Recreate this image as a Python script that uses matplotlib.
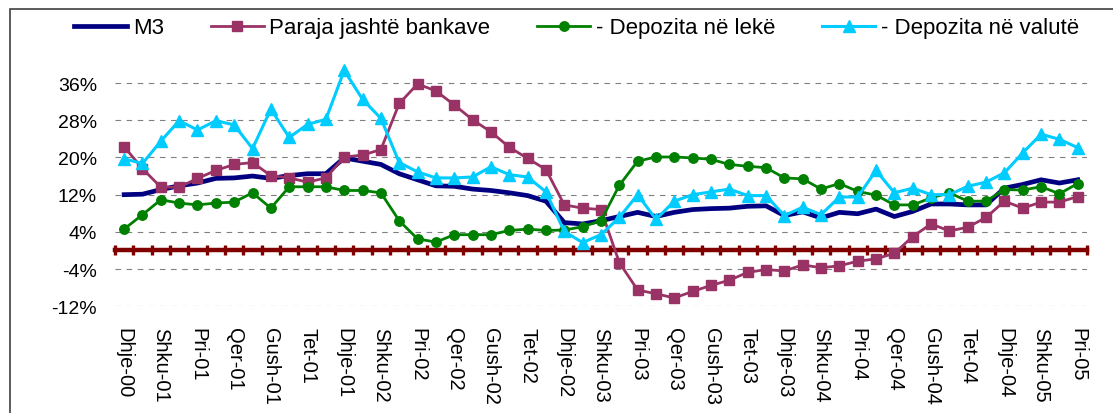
import numpy as np
import matplotlib.pyplot as plt
from matplotlib.patches import Rectangle
from matplotlib.ticker import FuncFormatter

plt.rcParams['font.family'] = ['Liberation Sans', 'DejaVu Sans']

# months Dhje-00 .. Pri-05, label every second month
labels = ['Dhje-00', 'Shku-01', 'Pri-01', 'Qer-01', 'Gush-01', 'Tet-01',
          'Dhje-01', 'Shku-02', 'Pri-02', 'Qer-02', 'Gush-02', 'Tet-02',
          'Dhje-02', 'Shku-03', 'Pri-03', 'Qer-03', 'Gush-03', 'Tet-03',
          'Dhje-03', 'Shku-04', 'Pri-04', 'Qer-04', 'Gush-04', 'Tet-04',
          'Dhje-04', 'Shku-05', 'Pri-05']

m3 = [12.0, 12.1, 13.1, 13.9, 14.5, 15.5, 15.6, 16.0, 15.5, 16.1, 16.5, 16.5,
      19.9, 19.2, 18.5, 16.5, 15.2, 13.9, 13.8, 13.2, 12.9, 12.4, 11.8, 10.6,
      6.0, 5.7, 6.4, 7.3, 8.2, 7.3, 8.2, 8.8, 9.0, 9.1, 9.5, 9.6, 7.5, 8.3,
      7.0, 8.2, 7.9, 8.9, 7.3, 8.4, 10.0, 10.0, 9.8, 9.8, 13.4, 14.2, 15.2,
      14.5, 15.2]
paraja = [22.3, 17.6, 13.6, 13.6, 15.5, 17.2, 18.5, 18.9, 16.1, 15.6, 14.7,
          15.6, 20.1, 20.5, 21.7, 31.6, 35.8, 34.3, 31.3, 28.1, 25.5, 22.2,
          19.8, 17.4, 9.8, 9.1, 8.8, -2.6, -8.5, -9.3, -10.2, -8.8, -7.5,
          -6.4, -4.7, -4.1, -4.4, -3.1, -3.7, -3.3, -2.3, -1.8, -0.6, 3.0,
          5.7, 4.2, 5.0, 7.1, 10.6, 9.1, 10.4, 10.4, 11.6]
leke = [4.6, 7.7, 10.9, 10.2, 9.8, 10.2, 10.4, 12.4, 9.1, 13.7, 13.7, 13.7,
        12.9, 12.9, 12.4, 6.4, 2.5, 1.8, 3.4, 3.4, 3.4, 4.3, 4.6, 4.3, 4.4,
        5.1, 6.4, 14.0, 19.2, 20.1, 20.1, 19.9, 19.6, 18.5, 18.1, 17.8, 15.6,
        15.4, 13.2, 14.4, 12.7, 11.9, 9.8, 9.8, 11.3, 12.4, 10.6, 10.6, 13.1,
        13.0, 13.7, 12.2, 14.4]
valute = [19.7, 18.7, 23.5, 27.9, 25.9, 27.9, 27.0, 21.9, 30.4, 24.3, 27.1,
          28.2, 38.7, 32.5, 28.4, 18.9, 16.9, 15.6, 15.6, 15.8, 18.0, 16.3,
          15.8, 12.6, 4.1, 1.7, 3.4, 7.1, 12.0, 6.7, 10.6, 12.0, 12.6, 13.2,
          11.8, 11.8, 7.5, 9.3, 7.7, 11.5, 11.5, 17.2, 12.4, 13.4, 12.0, 12.0,
          13.8, 14.7, 16.7, 21.0, 25.0, 23.9, 22.1]

x = np.arange(len(m3))

fig = plt.figure(figsize=(11.13, 4.14), dpi=100)
ax = fig.add_axes([0.1033, 0.2577, 0.8733, 0.5843])

ax.plot(x, m3, color='#000080', lw=3.4, label='M3', zorder=3,
        solid_joinstyle='round')
ax.plot(x, paraja, color='#993366', lw=2, marker='s', ms=6.8,
        label='Paraja jashtë bankave', zorder=4)
ax.plot(x, leke, color='#008000', lw=2, marker='o', ms=6.8,
        label='- Depozita në lekë', zorder=5)
ax.plot(x, valute, color='#00CCFF', lw=2.2, marker='^', ms=8.5,
        label='- Depozita në valutë', zorder=6)

ax.set_xlim(-0.5, len(x) - 0.5)
ax.set_ylim(-12, 40)
ax.set_yticks(np.arange(-12, 37, 8))
ax.yaxis.set_major_formatter(FuncFormatter(lambda v, p: f'{v:.0f}%'))
ax.grid(axis='y', color='#808080', ls=(0, (5, 5)), lw=0.8)
ax.set_axisbelow(True)
for s in ['top', 'right', 'left']:
    ax.spines[s].set_visible(False)

# category axis crossing at zero, ticks between months
ax.spines['bottom'].set_position(('data', 0))
ax.spines['bottom'].set_color('#800000')
ax.spines['bottom'].set_linewidth(3.2)
ax.set_xticks(np.arange(-0.5, len(x), 1))
ax.tick_params(axis='x', direction='inout', length=7.5, width=2.4,
               color='#800000', labelbottom=False)
ax.tick_params(axis='y', length=0, pad=13, labelsize=14)

sec = ax.secondary_xaxis('bottom')
sec.set_xticks(x[::2], labels)
sec.tick_params(length=0, pad=15, labelsize=14.5, labelrotation=270)
sec.spines['bottom'].set_visible(False)

fig.legend(loc='center', bbox_to_anchor=(0.518, 0.93), ncol=4,
           frameon=False, fontsize=16, handlelength=2.4, handletextpad=0.25,
           columnspacing=2.1)

fig.add_artist(Rectangle((10 / 1113, -0.1), 1.2, 1 - 10 / 414 + 0.1,
                         transform=fig.transFigure, fill=False,
                         ec='#404040', lw=1.2))

fig.savefig('out.png', dpi=100)
